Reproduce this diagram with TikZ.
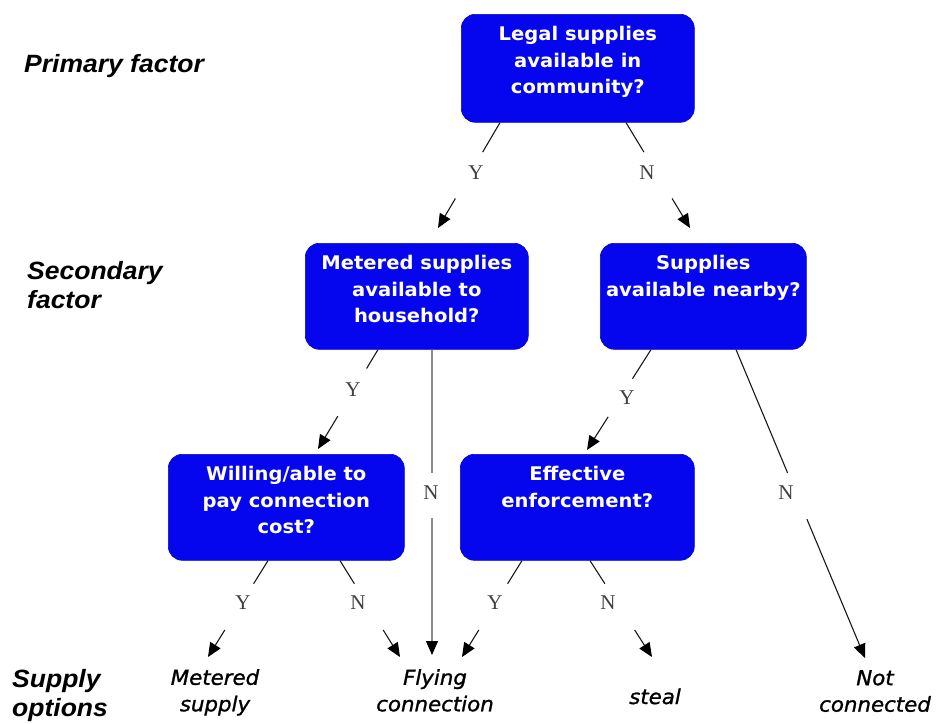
\documentclass[tikz,border=0pt]{standalone}
\usepackage{fontspec}
\usetikzlibrary{arrows.meta,calc}
\newfontfamily\boxfont{DejaVu Sans}[FakeStretch=1.04]
\newfontfamily\leaffont{DejaVu Sans}[FakeStretch=1.04,FakeBold=1.2]
\newfontfamily\sidefont{Liberation Sans}[FakeStretch=1.06]
\newfontfamily\ynfont{Liberation Serif}
\definecolor{boxblue}{RGB}{6,6,238}
\newcommand\ynlink[8][link]{%
  \draw[#1] (#3) -- ($(#3)!#6!(#4)$);
  \draw[#1,arrowend] ($(#3)!#7!(#4)$) -- (#4);
  \node[yn] (#2) at #8 {#5};}
\begin{document}
\begin{tikzpicture}[x=1pt,y=-1pt,
  qbox/.style={draw=boxblue!85!black, line width=0.6pt, fill=boxblue, rounded corners=14pt, inner sep=0pt, anchor=north west},
  qtext/.style={text=white, font=\boxfont\bfseries\fontsize{18.8}{26.5}\selectfont, align=center, inner sep=0pt, anchor=north},
  leaf/.style={font=\leaffont\itshape\fontsize{20.5}{26.5}\selectfont, align=center, inner sep=0pt},
  side/.style={font=\sidefont\bfseries\itshape\fontsize{25}{29}\selectfont, align=left, inner sep=0pt, anchor=north west},
  yn/.style={font=\ynfont\fontsize{21}{21}\selectfont, text=black!75, inner sep=0pt},
  link/.style={line width=1.1pt, draw=black!90},
  glink/.style={line width=1.2pt, draw=black!45},
  arrowend/.style={-{Triangle[length=14pt,width=12pt,color=black]}}]
\path[use as bounding box, fill=white] (0,0) rectangle (939,723);

% side labels
\node[side] (prim) at (24,54) {Primary factor};
\node[side] (sec) at (27,261) {Secondary\\factor};
\node[side] (opt) at (12,669) {Supply\\options};

% question boxes
\node[qbox, minimum width=233pt, minimum height=108pt] (top) at (461,14) {};
\node[qtext] (topt) at ([yshift=-12.5pt]top.north) {Legal supplies\\available in\\community?};
\node[qbox, minimum width=223pt, minimum height=106pt] (met) at (305,243) {};
\node[qtext] (mett) at ([yshift=-12.5pt]met.north) {Metered supplies\\available to\\household?};
\node[qbox, minimum width=206pt, minimum height=106pt] (sup) at (600,243) {};
\node[qtext] (supt) at ([yshift=-12.5pt]sup.north) {Supplies\\available nearby?};
\node[qbox, minimum width=236pt, minimum height=106pt] (wil) at (168,454) {};
\node[qtext] (wilt) at ([yshift=-12.5pt]wil.north) {Willing/able to\\pay connection\\cost?};
\node[qbox, minimum width=234pt, minimum height=106pt] (eff) at (460,454) {};
\node[qtext] (efft) at ([yshift=-12.5pt]eff.north) {Effective\\enforcement?};

% leaves
\node[leaf, anchor=north] (lmet) at (215,669) {Metered\\supply};
\node[leaf, anchor=north] (lfly) at (435,669) {Flying\\connection};
\node[leaf, anchor=base] (lsteal) at (655,704) {steal};
\node[leaf, anchor=north] (lnot) at (875,670) {Not\\connected};

% arrow end points
\coordinate (e1) at (438,228);
\coordinate (e2) at (690,228);
\coordinate (e3) at (318,449);
\coordinate (e4) at (432,655);
\coordinate (e5) at (587,450);
\coordinate (e6) at (865,658);
\coordinate (e7) at (208,657);
\coordinate (e8) at (400,657);
\coordinate (e9) at (462,657);
\coordinate (e10) at (652,657);

% connectors
\ynlink{y1}{$(top.south west)+(39,0)$}{e1}{Y}{0.28}{0.72}{(476,173)}
\ynlink{n1}{$(top.south west)+(165,0)$}{e2}{N}{0.28}{0.72}{(647,173)}
\ynlink{y2}{$(met.south west)+(73,0)$}{e3}{Y}{0.19}{0.67}{(353,390)}
\ynlink[glink]{n2}{$(met.south west)+(127,0)$}{e4}{N}{0.405}{0.55}{(431,493)}
\ynlink{y3}{$(sup.south west)+(51,0)$}{e5}{Y}{0.29}{0.67}{(627,398)}
\ynlink{n3}{$(sup.south west)+(136,0)$}{e6}{N}{0.40}{0.55}{(786,493)}
\ynlink{y4}{$(wil.south west)+(100,0)$}{e7}{Y}{0.24}{0.72}{(243,603)}
\ynlink{n4}{$(wil.south west)+(172,0)$}{e8}{N}{0.24}{0.72}{(358,603)}
\ynlink{y5}{$(eff.south west)+(62,0)$}{e9}{Y}{0.24}{0.72}{(495,603)}
\ynlink{n5}{$(eff.south west)+(130,0)$}{e10}{N}{0.24}{0.72}{(608,603)}
\end{tikzpicture}
\end{document}
